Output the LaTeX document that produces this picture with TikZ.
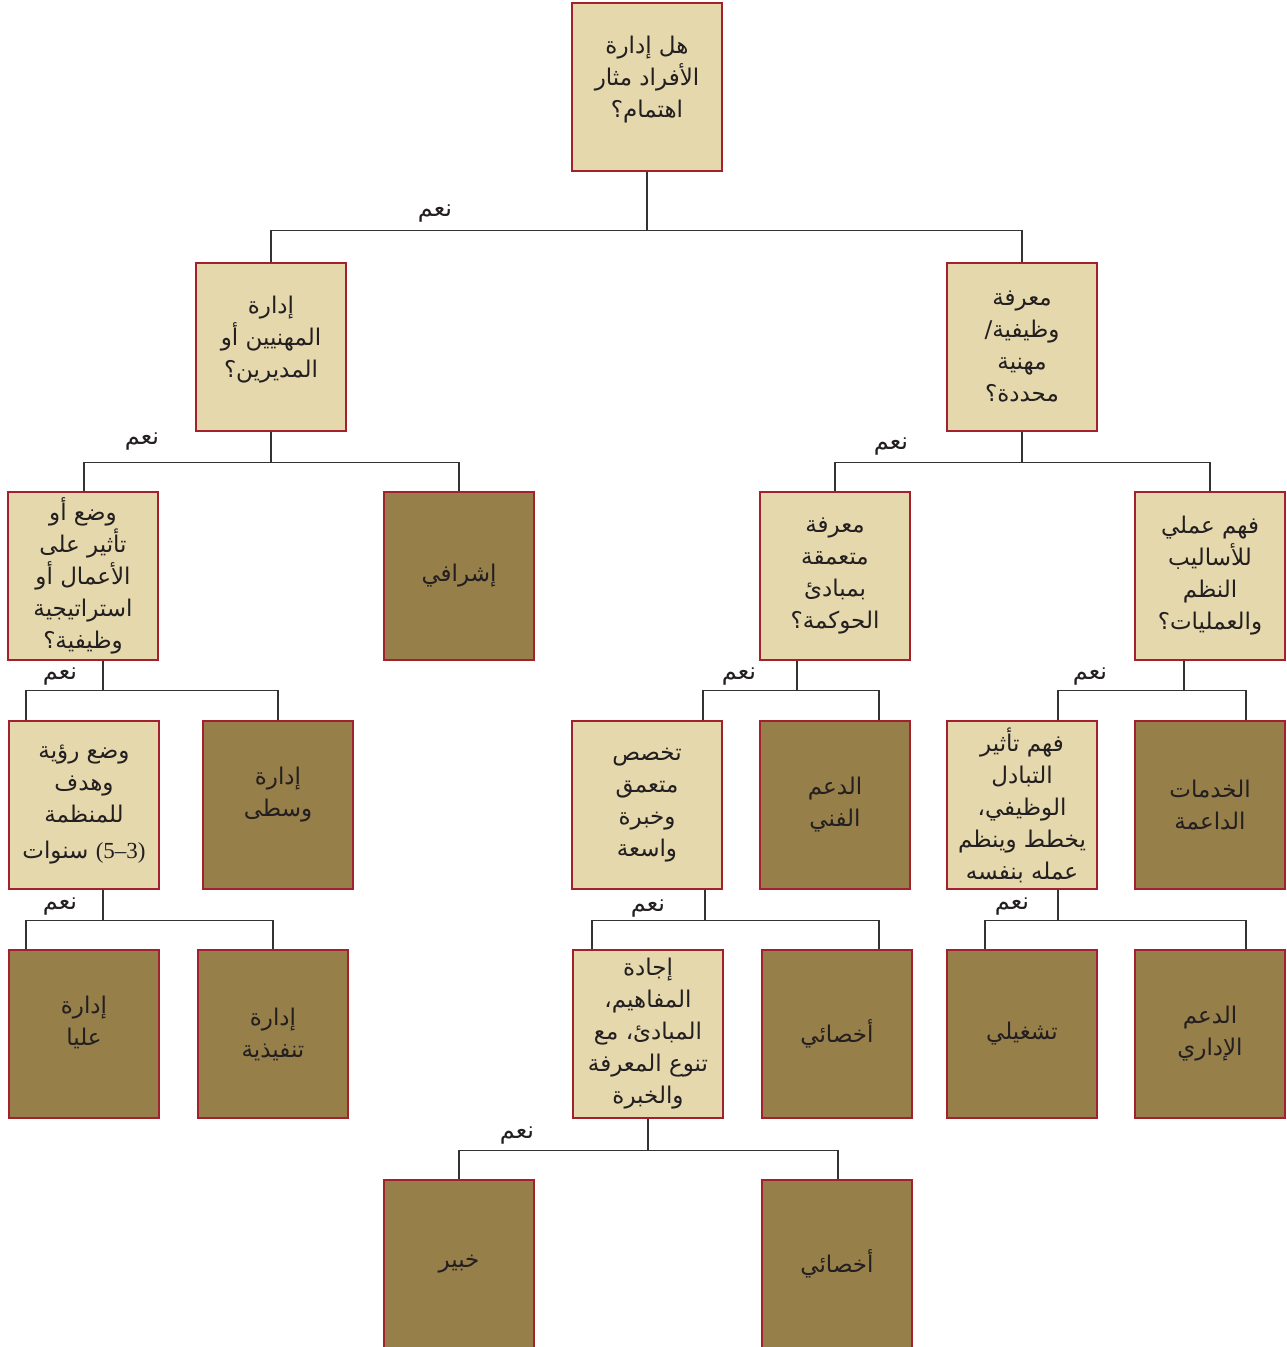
\documentclass[tikz,border=0pt]{standalone}
\usepackage{fontspec}
\newfontfamily\arabicfont[Script=Arabic]{DejaVu Sans}
\newfontfamily\digitfont{Liberation Serif}
\TeXXeTstate=1
\definecolor{lightc}{HTML}{E5D8AD}
\definecolor{darkc}{HTML}{977F4A}
\definecolor{bordc}{HTML}{A3202E}
\definecolor{textc}{HTML}{231F20}
\definecolor{linec}{HTML}{333333}
\newcommand{\AR}[1]{\beginR #1\endR}
\tikzset{
  qbox/.style={draw=bordc, line width=1.3pt, fill=lightc, minimum width=150pt,
    minimum height=168pt, inner sep=0pt, align=center, text=textc,
    font=\arabicfont\fontsize{23}{32}\selectfont},
  rbox/.style={qbox, fill=darkc},
  conn/.style={draw=linec, line width=1.3pt},
  yes/.style={text=textc, inner sep=0pt, font=\arabicfont\fontsize{24}{26}\selectfont}
}
\begin{document}
\begin{tikzpicture}[x=1pt,y=-1pt]
\useasboundingbox (0,0) rectangle (1286,1347);
% boxes
\node[qbox] (r) at (647,87) {\AR{هل إدارة}\\ \AR{الأفراد مثار}\\ \AR{اهتمام؟}\\[-12pt]\mbox{}};
\node[qbox] (q1) at (271,347) {\AR{إدارة}\\ \AR{المهنيين أو}\\ \AR{المديرين؟}\\[-12pt]\mbox{}};
\node[qbox] (q2) at (1022,347) {\AR{معرفة}\\ \AR{وظيفية/}\\ \AR{مهنية}\\ \AR{محددة؟}};
\node[qbox] (q11) at (83,576) {\AR{وضع أو}\\ \AR{تأثير على}\\ \AR{الأعمال أو}\\ \AR{استراتيجية}\\ \AR{وظيفية؟}};
\node[rbox] (d12) at (459,576) {\AR{إشرافي}};
\node[qbox] (q111) at (84,805) {\AR{وضع رؤية}\\ \AR{وهدف}\\ \AR{للمنظمة}\\[4pt] \AR{\beginL{\digitfont(5–3)}\endL{} سنوات}};
\node[rbox] (d112) at (278,805) {\AR{إدارة}\\ \AR{وسطى}\\[-6pt]\mbox{}};
\node[rbox] (d1111) at (84,1034) {\AR{إدارة}\\ \AR{عليا}\\[-6pt]\mbox{}};
\node[rbox] (d1112) at (273,1034) {\AR{إدارة}\\ \AR{تنفيذية}};
\node[qbox] (q21) at (835,576) {\AR{معرفة}\\ \AR{متعمقة}\\ \AR{بمبادئ}\\ \AR{الحوكمة؟}};
\node[qbox] (q22) at (1210,576) {\AR{فهم عملي}\\ \AR{للأساليب}\\ \AR{النظم}\\ \AR{والعمليات؟}};
\node[qbox] (q211) at (647,805) {\AR{تخصص}\\ \AR{متعمق}\\ \AR{وخبرة}\\ \AR{واسعة}};
\node[rbox] (d212) at (835,805) {\AR{الدعم}\\ \AR{الفني}};
\node[qbox] (q221) at (1022,805) {\AR{فهم تأثير}\\ \AR{التبادل}\\ \AR{الوظيفي،}\\ \AR{يخطط وينظم}\\ \AR{عمله بنفسه}};
\node[rbox] (d222) at (1210,805) {\AR{الخدمات}\\ \AR{الداعمة}};
\node[qbox] (q2111) at (648,1034) {\AR{إجادة}\\ \AR{المفاهيم،}\\ \AR{المبادئ، مع}\\ \AR{تنوع المعرفة}\\ \AR{والخبرة}};
\node[rbox] (d2112) at (837,1034) {\AR{أخصائي}};
\node[rbox] (d2211) at (1022,1034) {\AR{تشغيلي}};
\node[rbox] (d2212) at (1210,1034) {\AR{الدعم}\\ \AR{الإداري}};
\node[rbox] (d21111) at (459,1264) {\AR{خبير}};
\node[rbox] (d21112) at (837,1264) {\AR{أخصائي}};
% connector attachment points
\coordinate (r-o) at (r.south);
\coordinate (q1-i) at (q1.north);
\coordinate (q2-i) at (q2.north);
\coordinate (q1-o) at (q1.south);
\coordinate (q11-i) at ([xshift=1pt]q11.north);
\coordinate (d12-i) at (d12.north);
\coordinate (q11-o) at ([xshift=20pt]q11.south);
\coordinate (q111-i) at ([xshift=-58pt]q111.north);
\coordinate (d112-i) at (d112.north);
\coordinate (q111-o) at ([xshift=19pt]q111.south);
\coordinate (d1111-i) at ([xshift=-58pt]d1111.north);
\coordinate (d1112-i) at (d1112.north);
\coordinate (q2-o) at (q2.south);
\coordinate (q21-i) at (q21.north);
\coordinate (q22-i) at (q22.north);
\coordinate (q21-o) at ([xshift=-38pt]q21.south);
\coordinate (q211-i) at ([xshift=56pt]q211.north);
\coordinate (d212-i) at ([xshift=44pt]d212.north);
\coordinate (q22-o) at ([xshift=-26pt]q22.south);
\coordinate (q221-i) at ([xshift=36pt]q221.north);
\coordinate (d222-i) at ([xshift=36pt]d222.north);
\coordinate (q211-o) at ([xshift=58pt]q211.south);
\coordinate (q2111-i) at ([xshift=-56pt]q2111.north);
\coordinate (d2112-i) at ([xshift=42pt]d2112.north);
\coordinate (q221-o) at ([xshift=36pt]q221.south);
\coordinate (d2211-i) at ([xshift=-37pt]d2211.north);
\coordinate (d2212-i) at ([xshift=36pt]d2212.north);
\coordinate (q2111-o) at (q2111.south);
\coordinate (d21111-i) at (d21111.north);
\coordinate (d21112-i) at ([xshift=1pt]d21112.north);
% connectors
\draw[conn] (r-o) -- ++(0,59) coordinate (b0);
\draw[conn] (q1-i) -- (q1-i |- b0) -- (q2-i |- b0) -- (q2-i);
\draw[conn] (q1-o) -- ++(0,31) coordinate (b1);
\draw[conn] (q11-i) -- (q11-i |- b1) -- (d12-i |- b1) -- (d12-i);
\draw[conn] (q11-o) -- ++(0,30) coordinate (b2);
\draw[conn] (q111-i) -- (q111-i |- b2) -- (d112-i |- b2) -- (d112-i);
\draw[conn] (q111-o) -- ++(0,31) coordinate (b3);
\draw[conn] (d1111-i) -- (d1111-i |- b3) -- (d1112-i |- b3) -- (d1112-i);
\draw[conn] (q2-o) -- ++(0,31) coordinate (b4);
\draw[conn] (q21-i) -- (q21-i |- b4) -- (q22-i |- b4) -- (q22-i);
\draw[conn] (q21-o) -- ++(0,30) coordinate (b5);
\draw[conn] (q211-i) -- (q211-i |- b5) -- (d212-i |- b5) -- (d212-i);
\draw[conn] (q22-o) -- ++(0,30) coordinate (b6);
\draw[conn] (q221-i) -- (q221-i |- b6) -- (d222-i |- b6) -- (d222-i);
\draw[conn] (q211-o) -- ++(0,31) coordinate (b7);
\draw[conn] (q2111-i) -- (q2111-i |- b7) -- (d2112-i |- b7) -- (d2112-i);
\draw[conn] (q221-o) -- ++(0,31) coordinate (b8);
\draw[conn] (d2211-i) -- (d2211-i |- b8) -- (d2212-i |- b8) -- (d2212-i);
\draw[conn] (q2111-o) -- ++(0,32) coordinate (b9);
\draw[conn] (d21111-i) -- (d21111-i |- b9) -- (d21112-i |- b9) -- (d21112-i);
% labels
\node[yes] (y0) at (435,214) {\AR{نعم}};
\node[yes] (y1) at (142,442) {\AR{نعم}};
\node[yes] (y2) at (60,677) {\AR{نعم}};
\node[yes] (y3) at (60,907) {\AR{نعم}};
\node[yes] (y4) at (891,447) {\AR{نعم}};
\node[yes] (y5) at (739,677) {\AR{نعم}};
\node[yes] (y6) at (1090,677) {\AR{نعم}};
\node[yes] (y7) at (648,909) {\AR{نعم}};
\node[yes] (y8) at (1012,907) {\AR{نعم}};
\node[yes] (y9) at (517,1136) {\AR{نعم}};
\end{tikzpicture}
\end{document}
